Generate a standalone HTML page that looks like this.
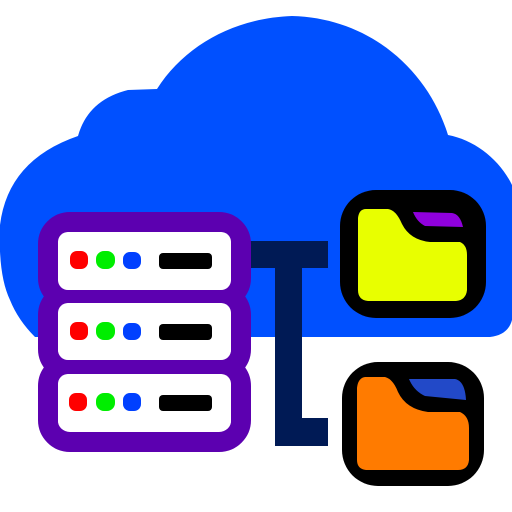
<!DOCTYPE html>
<html><head><style>html,body{margin:0;padding:0;background:#fff;}svg{display:block}</style></head>
<body>
<svg width="512" height="512" viewBox="0 0 512 512" xmlns="http://www.w3.org/2000/svg">
<!-- cloud -->
<path fill="#0050ff" d="M157,89 C185,45 235,18 292,16 C370,18 428,70 448,135 C475,140 500,160 512,185 L512,320 Q508,335 490,337 L35,337 Q18,320 10,300 Q-2,275 0,225 Q8,160 78,136 Q88,100 128,90 Z"/>
<!-- connector -->
<g fill="#001a55">
<rect x="250" y="241" width="78" height="27"/>
<rect x="275" y="241" width="27" height="205" rx="3"/>
<rect x="275" y="418" width="53" height="28"/>
</g>
<!-- server -->
<g fill="#fff" stroke="#5c00b0" stroke-width="20">
<rect x="48" y="222" width="193" height="78" rx="22"/>
<rect x="48" y="293" width="193" height="78" rx="22"/>
<rect x="48" y="364" width="193" height="78" rx="22"/>
</g>
<g fill="#fff">
<rect x="58" y="232" width="173" height="58" rx="10"/>
<rect x="58" y="303" width="173" height="57" rx="10"/>
<rect x="58" y="374" width="173" height="57" rx="10"/>
</g>
<g>
<rect x="70" y="251" width="18" height="18" rx="7" fill="#ff0000"/>
<rect x="96" y="251" width="19" height="18" rx="8" fill="#00ee00"/>
<rect x="123" y="252" width="18" height="17" rx="7" fill="#0040ff"/>
<rect x="159" y="253" width="53" height="16" rx="4" fill="#000"/>
<rect x="70" y="322" width="18" height="18" rx="7" fill="#ff0000"/>
<rect x="96" y="322" width="19" height="18" rx="8" fill="#00ee00"/>
<rect x="123" y="323" width="18" height="17" rx="7" fill="#0040ff"/>
<rect x="159" y="324" width="53" height="16" rx="4" fill="#000"/>
<rect x="69" y="393" width="18" height="18" rx="7" fill="#ff0000"/>
<rect x="96" y="393" width="19" height="18" rx="8" fill="#00ee00"/>
<rect x="123" y="393" width="18" height="18" rx="7" fill="#0040ff"/>
<rect x="159" y="395" width="53" height="16" rx="4" fill="#000"/>
</g>
<!-- folder 1 -->
<rect x="340" y="190" width="146" height="128" rx="36" fill="#000"/>
<path d="M366,209 L388,209 Q396,210 402,224 Q410,240 430,242 L460,242 Q467,245 467,255 L467,290 Q466,300 456,301 L368,301 Q358,300 358,290 L358,218 Q359,209 366,209 Z" fill="#e8ff00"/>
<path d="M413,212 L452,213 Q460,214 463,227 L425,226 Q417,222 413,212 Z" fill="#9000dd"/>
<!-- folder 2 -->
<rect x="342" y="362" width="142" height="124" rx="36" fill="#000"/>
<path d="M365,377 L385,377 Q393,379 398,392 Q406,409 428,412 L460,412 Q469,416 469,428 L469,460 Q468,470 458,470 L366,470 Q357,469 357,460 L357,388 Q358,378 365,377 Z" fill="#ff7b00"/>
<path d="M409,379 L455,379 Q465,381 466,400 L425,396 Q414,391 409,379 Z" fill="#2249c8"/>
</svg>
</body></html>
